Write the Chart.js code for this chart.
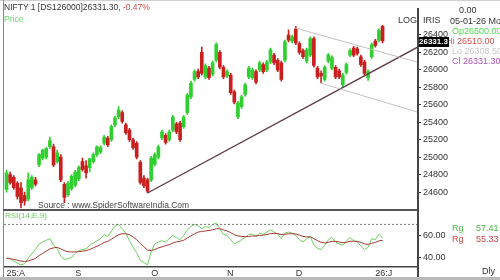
<!DOCTYPE html>
<html><head><meta charset="utf-8">
<script src="https://cdn.jsdelivr.net/npm/chart.js@4.4.1/dist/chart.umd.min.js"></script>
<style>
html,body{margin:0;padding:0;background:#fff;width:500px;height:280px;overflow:hidden;font-family:"Liberation Sans",Arial,sans-serif;}
#wrap{position:relative;width:500px;height:280px;overflow:hidden;}
canvas{position:absolute;left:0;}
.t{position:absolute;white-space:nowrap;font-size:9px;line-height:10px;color:#333;}
.ln{position:absolute;}
</style></head><body><div id="wrap">
<canvas id="main" width="500" height="216" style="top:0"></canvas>
<canvas id="rsi" width="500" height="75" style="top:205px"></canvas>

<div class="ln" style="left:0;top:0;width:500px;height:1px;background:#d0d0d0"></div>
<div class="ln" style="left:3px;top:0;width:1px;height:277px;background:#888"></div>
<div class="ln" style="left:3px;top:209px;width:415px;height:1.5px;background:#555"></div>
<div class="ln" style="left:417px;top:8px;width:1.5px;height:269px;background:#444"></div>
<div class="ln" style="left:0;top:277px;width:500px;height:3px;background:#b8b8b8"></div>

<div class="t" style="left:4px;top:2px;font-size:8.5px">NIFTY 1 [DS126000]26331.30, <span style="color:#d04848">-0.47%</span></div>
<div class="t" style="left:4px;top:14px;color:#66d966;font-size:8.5px">Price</div>
<div class="t" style="left:459px;top:5px">0.00</div>
<div class="t" style="left:398px;top:15px">LOG</div>
<div class="t" style="left:423px;top:15px">IRIS</div>
<div class="t" style="left:450px;top:16px">05-01-26 Mo</div>
<div class="t" style="left:452px;top:26px;color:#55d855">Op26500.00</div>
<div class="t" style="left:446px;top:36px;color:#d65050">Hi 26510.00</div>
<div class="t" style="left:452px;top:46px;color:#c8c8c8">Lo 26308.50</div>
<div class="t" style="left:452px;top:56px;color:#b050c0">Cl 26331.30</div>
<div class="t" style="left:419px;top:37px;width:30px;height:10px;overflow:hidden;background:#000;color:#fff;font-weight:bold;font-size:8px">26331.3</div>
<div class="t" style="left:38px;top:200px;color:#444;font-size:8.5px">Source : www.SpiderSoftwareIndia.Com</div>
<div class="t" style="left:5px;top:211px;color:#66cc55;font-size:8px">RSI(14,E,9)</div>
<div class="t" style="left:452px;top:223px;color:#44bb44">Rg</div>
<div class="t" style="left:476px;top:223px;color:#44bb44">57.41</div>
<div class="t" style="left:452px;top:234px;color:#cc4444">Rg</div>
<div class="t" style="left:476px;top:234px;color:#cc4444">55.33</div>
<div class="t" style="left:482px;top:266px">Dly</div>
</div>
<script>
const opens = [24630,24800,24770,24700,24650,24560,24520,24650,24740,24910,
24990,25000,25120,25120,24950,25000,24690,24570,24640,24680,
24750,24950,24900,24880,24950,25030,25060,25160,25220,25200,
25370,25460,25510,25370,25310,25200,25160,24940,24760,24740,
24740,24920,25000,25220,25250,25200,25310,25380,25390,25350,
25510,25690,25890,25980,26200,25920,26020,25950,26110,26200,
26030,25930,25940,25750,25460,25580,25720,25920,25910,25980,
26000,26060,26000,26090,26170,26110,26080,26110,26400,26330,
26470,26300,26220,26100,26170,26360,26020,25960,25890,26100,
26020,26030,25990,25830,25970,26170,26250,26240,26150,26090,
25910,26150,26330,26340,26500];
const highs = [24850,24830,24790,24720,24710,24600,24820,24790,24770,25040,
25090,25110,25230,25150,25080,25030,24710,24720,24800,24850,
24900,24990,24960,24990,25050,25130,25130,25250,25240,25370,
25470,25580,25530,25390,25330,25220,25180,24960,24790,24760,
25010,25050,25140,25310,25270,25310,25480,25400,25410,25480,
25730,25870,26000,26010,26260,26070,26040,26100,26310,26220,
26050,26000,25960,25770,25640,25710,25850,26040,26020,26000,
26100,26080,26110,26250,26190,26130,26100,26340,26460,26400,
26500,26320,26240,26250,26380,26380,26040,25990,26050,26190,
26160,26050,26010,25960,26080,26240,26270,26260,26170,26110,
26000,26310,26350,26470,26510];
const lows = [24600,24690,24630,24520,24420,24450,24500,24630,24670,24890,
24970,24980,25100,24890,24930,24720,24480,24550,24620,24660,
24730,24840,24760,24830,24930,25010,25040,25140,25120,25180,
25350,25440,25390,25260,25180,25090,24980,24690,24650,24590,
24720,24900,24980,25200,25150,25180,25290,25270,25180,25330,
25490,25670,25870,25900,25940,25900,25890,25930,26090,26010,
25900,25910,25720,25610,25440,25560,25700,25900,25890,25840,
25980,25960,25980,26070,26060,25980,25870,26090,26320,26310,
26290,26180,26130,26080,26150,26030,25900,25850,25870,26080,
26000,25900,25900,25800,25950,26150,26150,26170,26040,25940,
25880,26130,26260,26320,26308.5];
const closes = [24820,24710,24650,24550,24480,24500,24740,24770,24690,25030,
25080,25100,25190,24910,25050,24740,24540,24700,24780,24830,
24880,24860,24820,24980,25030,25120,25110,25230,25140,25350,
25450,25540,25410,25280,25200,25110,25000,24710,24670,24610,
24990,25030,25120,25290,25170,25290,25460,25290,25200,25460,
25710,25850,25980,25920,25960,26050,25910,26080,26290,26030,
25920,25980,25740,25630,25620,25690,25830,26020,26000,25860,
26080,25980,26090,26230,26080,26000,25890,26320,26340,26380,
26310,26200,26150,26230,26360,26050,25920,25930,26030,26170,
26140,25920,25920,25940,26060,26220,26170,26190,26060,25960,
25980,26290,26280,26450,26331.3];
const rsiValues = [39.5,38.5,36.5,34.5,33,34,39,43,47,52,
54,55.5,57,51,48,41,38,38.5,40,43.5,
46,47,47.5,51,53,55,57,60.5,59,64,
68.5,70,66,62,55,49,44,37,35,33,
45,52,54,55,54,57,60,58,56,60,
65,68,70,69,66,68,67,70,71,66,
61,60,56,52,54,56,58,61,61,59,
62,61,63,65,63,61,57,62,63,62,
60,56,54,57,59,51,48,47,51,56,
58,54,52,51,55,58,55,54,50,47,
49,57,56,61,57.41];
const rsiSignal = [39,38.5,38,37.2,36.5,36,36.5,37.5,39,41.5,
43.5,45.5,47.5,48.5,49,47.5,46,45,44.8,44.8,
45,45.5,46,47,48.5,50,51.5,53.5,54.5,56.5,
58.5,60.5,61.5,61.5,60.5,58.5,56,52.5,49.5,46.5,
46,47,48.5,49.5,50.5,51.5,53,54,54.5,55.5,
57.5,59.5,61.5,63,63.5,64,64.5,65,66,66,
65,64,62.5,60.5,59.5,59,58.8,59,59.4,59.4,
59.9,60.1,60.7,61.5,61.8,61.6,60.7,61,61.4,61.5,
61.2,60.2,59,58.6,58.7,57,55.2,53.6,53,53.6,
54.5,54.4,53.9,53.3,53.6,54.5,54.6,54.5,53.6,52.3,
51.6,52.7,53.4,55,55.33];
const monthIdx = [0,19,40,61,80,102];
const monthLabels = ['25:A','S','O','N','D','26:J'];
const priceTicks = [24600,24800,25000,25200,25400,25600,25800,26000,26200,26400];
const rsiTicks = [40,60];
const rsiLevel = 70;
// trend lines: [startIndex, startPrice, endIndex, endPrice]
const trendSupport = [39, 24590, 113.8, 26263];
const channelUpper = [79.8, 26480, 113.8, 26086];
const channelLower = [86.7, 25851, 113.8, 25515];

const X_MIN = -0.7, X_MAX = 113.8;
const GREEN = '#2fcf2f', RED = '#c91f1f';
const colors = opens.map((o,i)=> closes[i] >= o ? GREEN : RED);
const idx = opens.map((_,i)=>i);

function seg(a, color, w){
  return {type:'line', data:[{x:a[0],y:a[1]},{x:a[2],y:a[3]}], borderColor:color, borderWidth:w,
    pointRadius:0, fill:false, order:0, tension:0};
}
const fitW = s => { s.width = 82; };

new Chart(document.getElementById('main'), {
  type:'bar',
  data:{datasets:[
    {type:'bar', data: idx.map(i=>({x:i, y:[lows[i], highs[i]]})), backgroundColor: colors,
     barThickness:1, grouped:false, order:2},
    {type:'bar', data: idx.map(i=>({x:i, y:[opens[i], closes[i]]})), backgroundColor: colors,
     barThickness:3, grouped:false, order:1},
    seg(channelUpper, '#c8bfc0', 1),
    seg(channelLower, '#c8bfc0', 1),
    seg(trendSupport, '#5e3a4a', 1.3)
  ]},
  options:{
    responsive:false, animation:false, events:[],
    layout:{padding:{top:10,bottom:7,left:4,right:0}},
    plugins:{legend:{display:false}, tooltip:{enabled:false}},
    scales:{
      x:{type:'linear', min:X_MIN, max:X_MAX, display:false, offset:false},
      y:{position:'right', min:24411, max:26686, afterFit:fitW,
         afterBuildTicks: s => { s.ticks = priceTicks.map(v=>({value:v})); },
         ticks:{font:{family:'Liberation Sans', size:9}, color:'#333', padding:2, callback:v=>String(v)},
         grid:{drawOnChartArea:false, drawTicks:true, tickLength:3, color:'#333'},
         border:{display:true, color:'#444', width:1.5}}
    }
  }
});

new Chart(document.getElementById('rsi'), {
  type:'line',
  data:{datasets:[
    {data:[{x:X_MIN,y:rsiLevel},{x:X_MAX,y:rsiLevel}], borderColor:'#777', borderWidth:1, borderDash:[2,2], pointRadius:0},
    {data: idx.map(i=>({x:i,y:rsiSignal[i]})), borderColor:'#a33a30', borderWidth:1, pointRadius:0, tension:0},
    {data: idx.map(i=>({x:i,y:rsiValues[i]})), borderColor:'#6fd05f', borderWidth:1, pointRadius:0, tension:0}
  ]},
  options:{
    responsive:false, animation:false, events:[],
    layout:{padding:{top:6,bottom:1,left:4,right:0}},
    plugins:{legend:{display:false}, tooltip:{enabled:false}},
    scales:{
      x:{type:'linear', min:X_MIN, max:X_MAX, offset:false,
         afterFit: s => { s.height = 12; },
         afterBuildTicks: s => { s.ticks = monthIdx.map(v=>({value:v})); },
         ticks:{font:{family:'Liberation Sans', size:9}, color:'#333', padding:1, align:'start', autoSkip:false, maxRotation:0,
           callback:v=>{ const k = monthIdx.indexOf(v); return k>=0 ? monthLabels[k] : ''; }},
         grid:{drawOnChartArea:false, drawTicks:false},
         border:{display:true, color:'#444', width:1.5}},
      y:{position:'right', min:31, max:81, afterFit:fitW,
         afterBuildTicks: s => { s.ticks = rsiTicks.map(v=>({value:v})); },
         ticks:{font:{family:'Liberation Sans', size:9}, color:'#333', padding:2, callback:v=>Number(v).toFixed(2)},
         grid:{drawOnChartArea:false, drawTicks:true, tickLength:3, color:'#333'},
         border:{display:true, color:'#444', width:1.5}}
    }
  }
});
</script>
</body></html>
